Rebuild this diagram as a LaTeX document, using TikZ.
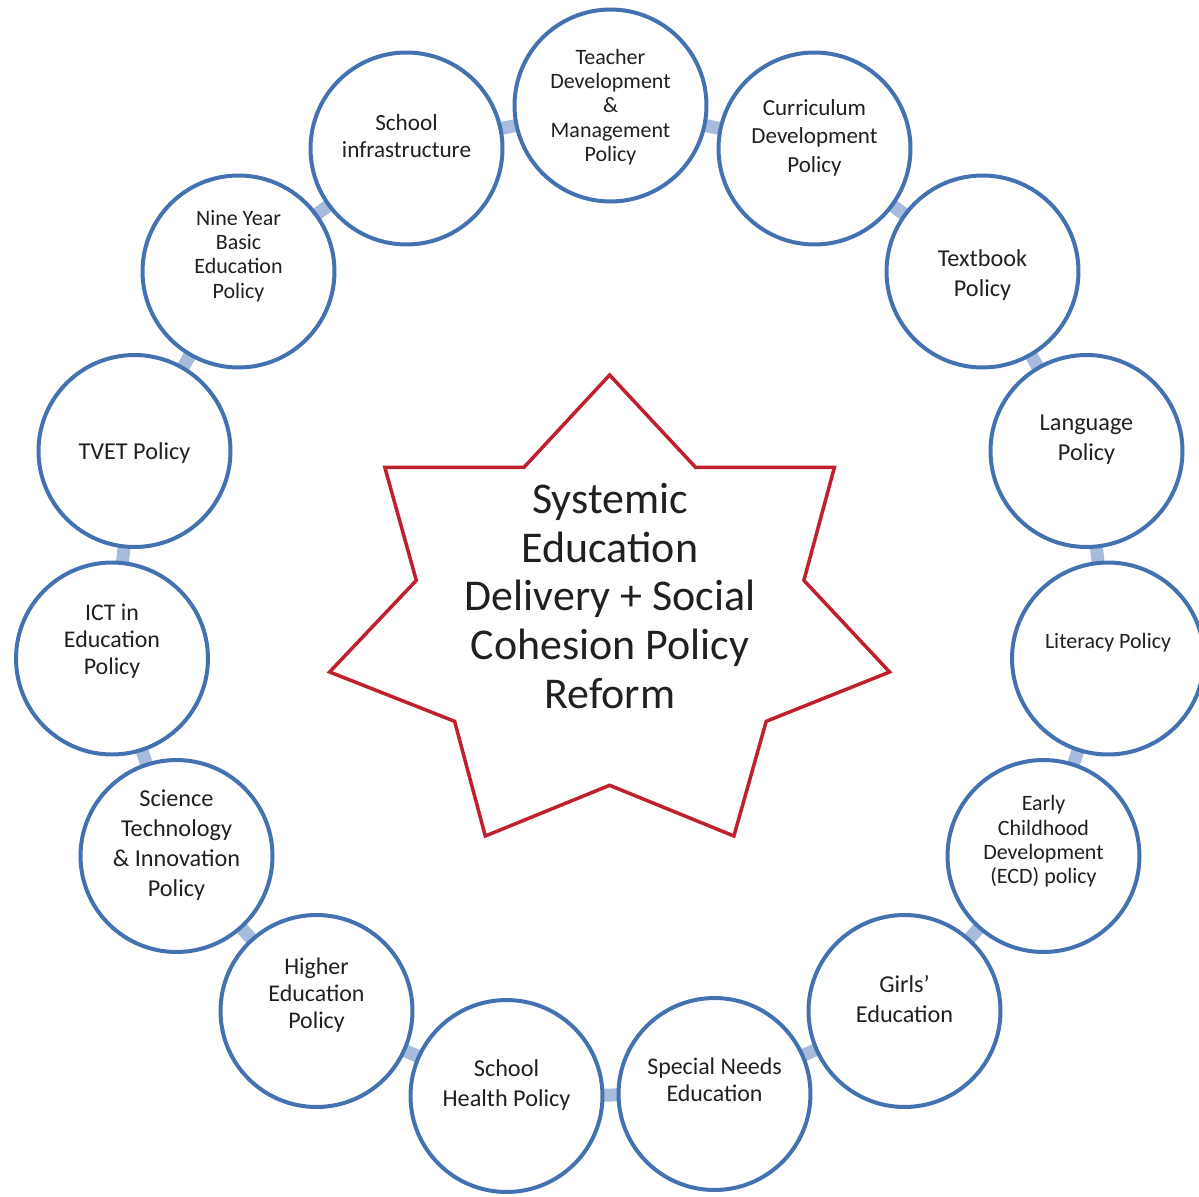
\documentclass[tikz,border=0pt]{standalone}
\usepackage{fontspec}
\setmainfont{Carlito}
\usetikzlibrary{backgrounds}
\definecolor{ringblue}{RGB}{68,114,176}
\definecolor{linkblue}{RGB}{167,188,220}
\definecolor{starred}{RGB}{192,32,45}
\definecolor{inkgrey}{RGB}{35,31,32}

\begin{document}
\begin{tikzpicture}[x=0.02cm,y=-0.02cm,
        policy/.style={circle,draw=ringblue,line width=0.08cm,fill=white,minimum size=3.84cm,inner sep=0pt},
        link/.style={draw=linkblue,line width=0.26cm},
        bigtxt/.style={align=center,text=inkgrey,inner sep=0pt,font=\fontsize{13.8}{17}\selectfont},
        midtxt/.style={align=center,text=inkgrey,inner sep=0pt,font=\fontsize{13.6}{15.4}\selectfont},
        smalltxt/.style={align=center,text=inkgrey,inner sep=0pt,font=\fontsize{12.5}{13.9}\selectfont},
        hubtxt/.style={align=center,text=inkgrey,inner sep=0pt,font=\fontsize{25}{27.8}\selectfont}]

        \useasboundingbox (0,0) rectangle (1199,1196);

        % ring of policies
        \node[policy] (teach) at (610.5,105.5) {};
        \node[policy] (curr) at (814.5,148.5) {};
        \node[policy] (textb) at (982.5,271.5) {};
        \node[policy] (lang) at (1086.5,451) {};
        \node[policy] (lit) at (1108,658.5) {};
        \node[policy] (ecd) at (1043.5,856) {};
        \node[policy] (girls) at (904.5,1011) {};
        \node[policy] (sne) at (714.5,1094) {};
        \node[policy] (health) at (506.5,1096) {};
        \node[policy] (higher) at (316.5,1011) {};
        \node[policy] (sti) at (176.5,856) {};
        \node[policy] (ict) at (112,658.5) {};
        \node[policy] (tvet) at (134.5,451) {};
        \node[policy] (nine) at (238.5,271.5) {};
        \node[policy] (infra) at (406.5,148.5) {};

        \node[smalltxt] (teach-t) at (610.5,107) {Teacher\\Development\\\&\\Management\\Policy};
        \node[bigtxt,font=\fontsize{13.1}{16.2}\selectfont] (curr-t) at (814.5,137.5) {Curriculum\\Development\\Policy};
        \node[bigtxt] (textb-t) at (982.5,275) {Textbook\\Policy};
        \node[bigtxt] (lang-t) at (1086.5,439.5) {Language\\Policy};
        \node[smalltxt] (lit-t) at (1108,643) {Literacy Policy};
        \node[smalltxt] (ecd-t) at (1043.5,841.5) {Early\\Childhood\\Development\\(ECD) policy};
        \node[bigtxt] (girls-t) at (904.5,999) {Girls’\\Education};
        \node[midtxt] (sne-t) at (714.5,1079.5) {Special Needs\\Education};
        \node[bigtxt] (health-t) at (506.5,1085) {School\\Health Policy};
        \node[midtxt] (higher-t) at (316.5,995) {Higher\\Education\\Policy};
        \node[bigtxt] (sti-t) at (176.5,845) {Science\\Technology\\\& Innovation\\Policy};
        \node[midtxt] (ict-t) at (112,641) {ICT in\\Education\\Policy};
        \node[bigtxt] (tvet-t) at (134.5,453) {TVET Policy};
        \node[smalltxt] (nine-t) at (238.5,256) {Nine Year\\Basic\\Education\\Policy};
        \node[midtxt,font=\fontsize{13.2}{15.4}\selectfont] (infra-t) at (406.5,136.5) {School\\infrastructure};

        \begin{pgfonlayer}{background}
            \foreach \a/\b in {teach/curr,curr/textb,textb/lang,lang/lit,lit/ecd,ecd/girls,
                    girls/sne,sne/health,health/higher,higher/sti,sti/ict,ict/tvet,tvet/nine,
                    nine/infra,infra/teach}
                \draw[link] (\a.center) -- (\b.center);
        \end{pgfonlayer}

        % the star in the middle
        \draw[starred,line width=0.07cm,line join=miter]
            (609.6,375) -- (695.5,467.3) -- (834.4,467.3) -- (803.9,580.4)
            -- (889.6,672) -- (766.2,721.3) -- (733.9,836) -- (609.6,785.3)
            -- (485.3,836) -- (454.6,721.3) -- (329.6,672) -- (416.3,580.4)
            -- (384.8,467.3) -- (524,467.3) -- cycle;
        \node[hubtxt] (hub) at (610,596) {Systemic\\Education\\Delivery + Social\\Cohesion Policy\\Reform};

    \end{tikzpicture}
\end{document}
